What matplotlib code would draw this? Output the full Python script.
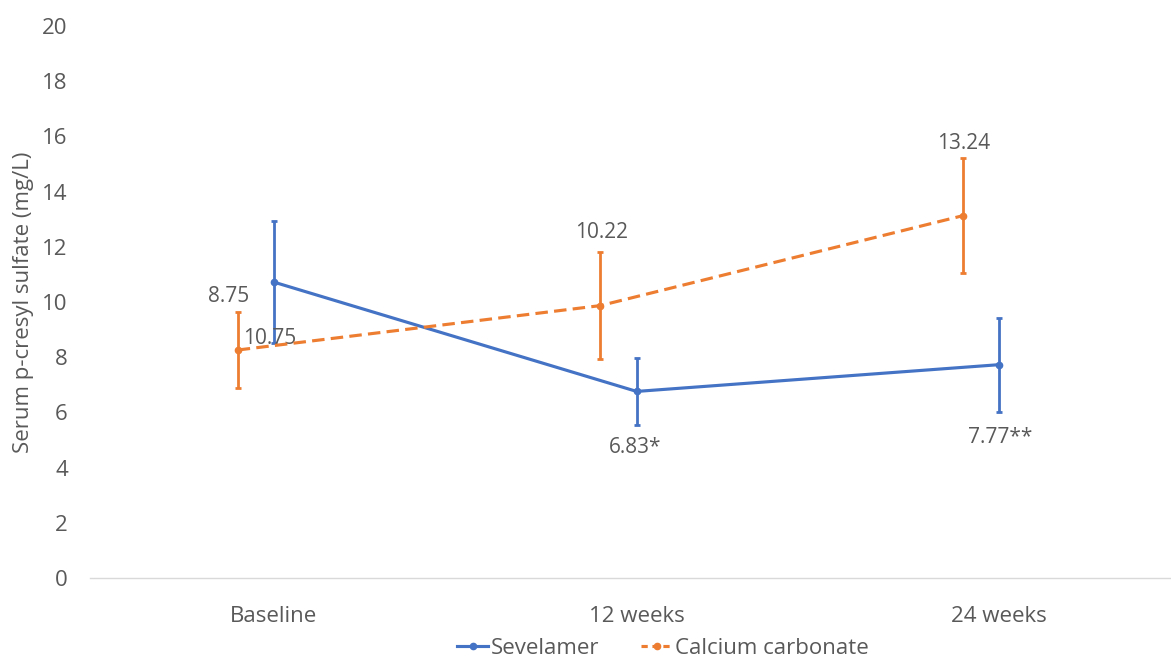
import matplotlib
matplotlib.use("Agg")
import matplotlib.pyplot as plt
from matplotlib.lines import Line2D
import numpy as np

plt.rcParams['font.family'] = ['Open Sans', 'DejaVu Sans']

categories = ['Baseline', '12 weeks', '24 weeks']

sevelamer_mean = [10.72, 6.76, 7.73]
sevelamer_err = [2.21, 1.20, 1.70]
sevelamer_labels = ['10.75', '6.83*', '7.77**']

calcium_mean = [8.26, 9.87, 13.13]
calcium_err = [1.38, 1.94, 2.08]
calcium_labels = ['8.75', '10.22', '13.24']

blue = '#4472C4'
orange = '#ED7D31'
grey = '#595959'

x = np.arange(len(categories))

fig = plt.figure(figsize=(11.71, 6.62), dpi=100)
ax = fig.add_axes([0.0769, 0.1269, 0.9221, 0.8338])

ax.errorbar(x, sevelamer_mean, yerr=sevelamer_err, color=blue, lw=2.25,
            marker='o', ms=4.5, capsize=2.5, capthick=2, elinewidth=2,
            zorder=3)
ax.errorbar(x - 0.1, calcium_mean, yerr=calcium_err, color=orange, lw=2.25,
            ls=(0, (4, 2)), marker='o', ms=4.5, capsize=2.5, capthick=2,
            elinewidth=2, zorder=3)

# data labels (offsets in pixels from the point)
sev_off = [(-4, -56), (-2, -56), (1, -73)]
cal_off = [(-9, 54), (1, 73), (1, 72)]
for xi, yi, lab, off in zip(x, sevelamer_mean, sevelamer_labels, sev_off):
    ax.annotate(lab, (xi, yi), xytext=off, textcoords='offset pixels',
                ha='center', va='center', fontsize=15, color=grey)
for xi, yi, lab, off in zip(x - 0.1, calcium_mean, calcium_labels, cal_off):
    ax.annotate(lab, (xi, yi), xytext=off, textcoords='offset pixels',
                ha='center', va='center', fontsize=15, color=grey)

ax.set_xlim(-0.507, 2.47)
ax.set_ylim(0, 20)
ax.set_yticks(range(0, 21, 2))
ax.set_xticks(x)
ax.set_xticklabels(categories)
ax.tick_params(length=0, labelsize=16, colors=grey)
ax.tick_params(axis='y', pad=16)
ax.tick_params(axis='x', pad=20)
for s in ['top', 'right', 'left']:
    ax.spines[s].set_visible(False)
ax.spines['bottom'].set_color('#d9d9d9')
ax.spines['bottom'].set_linewidth(1)

ax.set_ylabel('Serum p-cresyl sulfate (mg/L)', fontsize=16, color=grey, labelpad=6)

handles = [
    Line2D([], [], color=blue, lw=2.25, marker='o', ms=4.5),
    Line2D([], [], color=orange, lw=2.25, ls=(0, (2, 1.5)), marker='o', ms=4.5),
]
fig.legend(handles, ['Sevelamer', 'Calcium carbonate'], loc='center',
           bbox_to_anchor=(0.566, 0.02), ncol=2, frameon=False, fontsize=16,
           handlelength=1.4, handletextpad=0.1, columnspacing=1.9,
           labelcolor=grey, borderpad=0)

fig.savefig('out.png', dpi=100)
